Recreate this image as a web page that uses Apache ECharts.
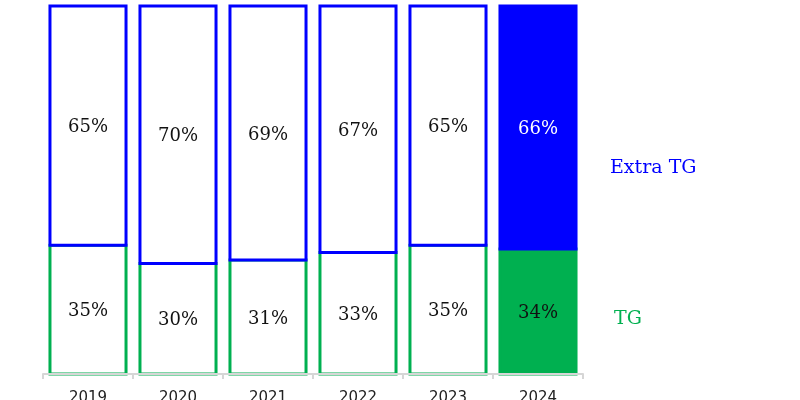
<!DOCTYPE html>
<html><head><meta charset="utf-8">
<script src="https://cdn.jsdelivr.net/npm/echarts@6/dist/echarts.min.js"></script>
<style>html,body{margin:0;padding:0;background:#fff}#c{width:800px;height:400px}</style>
</head><body><div id="c"></div>
<script>
const categories = ['2019','2020','2021','2022','2023','2024'];
const tgValues = [35, 30, 31, 33, 35, 34];
const extraValues = [65, 70, 69, 67, 65, 66];
const seriesNames = ['TG', 'Extra TG'];
const filledCategory = '2024';

const GREEN = '#00B050', BLUE = '#0000FF';
const SERIF = '18px "DejaVu Serif"';
const BAR_RATIO = 0.845;

function makeRender(color) {
  return function (params, api) {
    const i = api.value(0);
    const lo = api.coord([i, api.value(1)]);
    const hi = api.coord([i, api.value(2)]);
    const w = api.size([1, 0])[0] * BAR_RATIO;
    const x0 = lo[0] - w / 2;
    const yb = lo[1], yt = hi[1];
    const filled = categories[i] === filledCategory;
    const children = [{
      type: 'rect', shape: { x: x0, y: yt, width: w, height: yb - yt },
      style: { fill: filled ? color : '#fff', stroke: color, lineWidth: 3 }
    }];
    const pct = api.value(2) - api.value(1);
    children.push({ type: 'text', x: lo[0], y: (yb + yt) / 2 + 2,
      style: { text: pct + '%', font: SERIF, fill: filled && color === BLUE ? '#fff' : '#111',
        align: 'center', verticalAlign: 'middle' } });
    return { type: 'group', children: children };
  };
}

const tgData = tgValues.map((v, i) => [i, 0, v]);
const extraData = extraValues.map((v, i) => [i, tgValues[i], tgValues[i] + v]);

const chart = echarts.init(document.getElementById('c'));
chart.setOption({
  animation: false,
  grid: { left: 43, right: 217, top: 6, bottom: 26, containLabel: false, outerBoundsMode: 'none' },
  xAxis: {
    type: 'category', data: categories, z: 10, offset: 2,
    axisLine: { lineStyle: { color: '#d6d6d6', width: 2 } },
    axisTick: { show: true, length: 5, lineStyle: { color: '#d6d6d6', width: 2 } },
    axisLabel: { fontFamily: 'DejaVu Sans', fontSize: 15, color: '#222', margin: 15 }
  },
  yAxis: { type: 'value', min: 0, max: 100, show: false, splitLine: { show: false } },
  series: [
    { name: seriesNames[0], type: 'custom', data: tgData, encode: { x: 0, y: [1, 2] },
      renderItem: makeRender(GREEN) },
    { name: seriesNames[1], type: 'custom', data: extraData, encode: { x: 0, y: [1, 2] },
      renderItem: makeRender(BLUE) }
  ],
  graphic: [
    { type: 'text', left: 610, top: 159, style: { text: seriesNames[1], fill: BLUE, font: '19px "DejaVu Serif"' } },
    { type: 'text', left: 614, top: 310, style: { text: seriesNames[0], fill: GREEN, font: '19px "DejaVu Serif"' } }
  ]
});
</script></body></html>
